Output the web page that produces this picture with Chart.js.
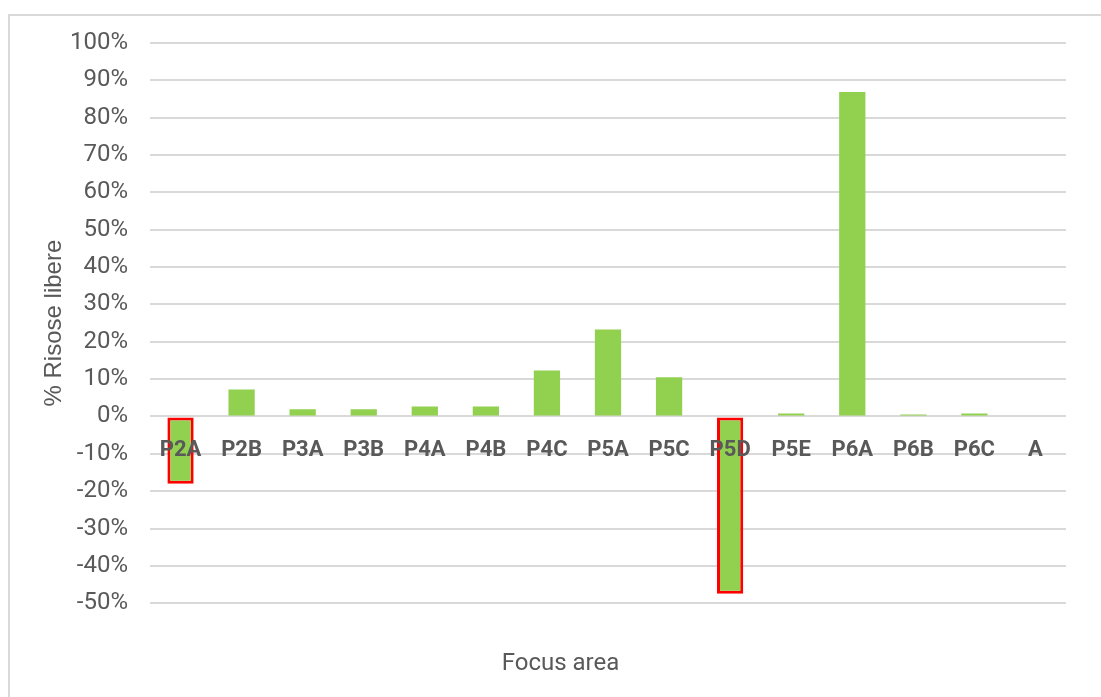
<!DOCTYPE html>
<html>
<head>
<meta charset="utf-8">
<script src="https://cdn.jsdelivr.net/npm/chart.js@4.4.1/dist/chart.umd.min.js"></script>
<style>
  html, body { margin: 0; padding: 0; background: #ffffff; }
  #wrap { position: relative; width: 1101px; height: 697px; overflow: hidden; }
  #frame {
    position: absolute; left: 8px; top: 14px; width: 1200px; height: 800px;
    border-top: 2px solid #d9d9d9; border-left: 2px solid #d9d9d9;
  }
  #chart { position: absolute; left: 0; top: 0; }
</style>
</head>
<body>
<div id="wrap">
  <div id="frame"></div>
  <canvas id="chart" width="1121" height="697"></canvas>
</div>
<script>
const focusAreas = ["P2A", "P2B", "P3A", "P3B", "P4A", "P4B", "P4C", "P5A", "P5C", "P5D", "P5E", "P6A", "P6B", "P6C", "A"];
const freeResources = [-18.0, 7.2, 1.9, 1.9, 2.7, 2.7, 12.3, 23.3, 10.5, -47.5, 0.8, 86.9, 0.5, 0.8, 0];
const highlighted = ["P2A", "P5D"];

const fontFam = "Roboto, sans-serif";
const textGrey = "#595959";

const ctx = document.getElementById("chart");

new Chart(ctx, {
  type: "bar",
  data: {
    labels: focusAreas,
    datasets: [
      {
        data: freeResources,
        backgroundColor: "#92d050",
        borderColor: focusAreas.map((f) => (highlighted.includes(f) ? "#ff0000" : "rgba(0,0,0,0)")),
        borderWidth: focusAreas.map((f) => (highlighted.includes(f) ? 3 : 0)),
        borderSkipped: false,
        categoryPercentage: 1,
        barPercentage: 0.43,
      },
    ],
  },
  options: {
    responsive: false,
    animation: false,
    layout: { padding: { left: 0, right: 0, top: 43, bottom: 0 } },
    plugins: {
      legend: { display: false },
      tooltip: { enabled: false },
      title: {
        display: true,
        position: "bottom",
        text: "Focus area",
        color: textGrey,
        padding: { top: 46, bottom: 19 },
        font: { family: fontFam, size: 24, weight: "normal" },
      },
    },
    scales: {
      x: {
        position: { y: 0 },
        grid: { display: false, drawTicks: false },
        border: { display: false },
        ticks: {
          z: 1,
          color: textGrey,
          padding: 21,
          maxRotation: 0,
          font: { family: fontFam, size: 22, weight: "bold" },
        },
      },
      y: {
        min: -50,
        max: 100,
        grid: { color: "#d9d9d9", lineWidth: 2, drawTicks: false },
        border: { display: false },
        ticks: {
          stepSize: 10,
          color: textGrey,
          padding: 22,
          font: { family: fontFam, size: 24 },
          callback: (v) => v + "%",
        },
        title: {
          display: true,
          text: "% Risose libere",
          color: textGrey,
          padding: { top: 40, bottom: 0 },
          font: { family: "'Liberation Sans', Arial, sans-serif", size: 24 },
        },
        afterFit: (scale) => {
          scale.width = 150;
        },
      },
      // empty right-hand box so the plot stops where the reference does
      yRight: {
        type: "linear",
        position: "right",
        grid: { display: false, drawTicks: false },
        border: { display: false },
        ticks: { display: false },
        afterFit: (scale) => {
          scale.width = 55;
        },
      },
    },
  },
});
</script>
</body>
</html>
